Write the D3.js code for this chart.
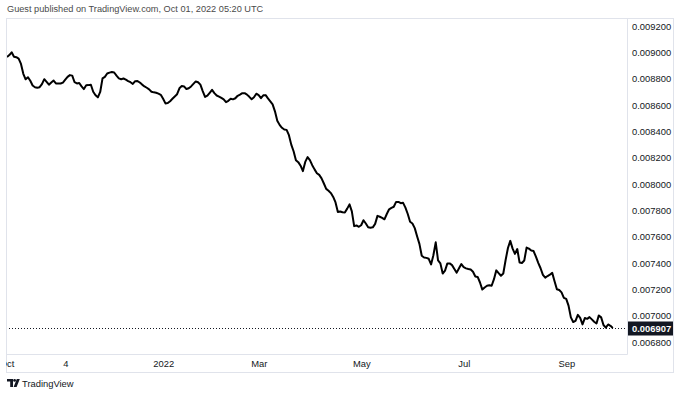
<!DOCTYPE html>
<html>
<head>
<meta charset="utf-8">
<script src="https://cdn.jsdelivr.net/npm/d3@7"></script>
<style>
  html, body { margin: 0; padding: 0; background: #ffffff; }
  svg { display: block; }
</style>
</head>
<body>
<svg id="chart" width="692" height="397"></svg>
<script>
// ---------------- DATA ----------------
const title = "Guest published on TradingView.com, Oct 01, 2022 05:20 UTC";
const startDate = "2021-10-01";   // first daily bar (weekdays only)
const closes = [
  0.008964,0.008979,0.009000,0.008966,0.008963,0.008952,0.008912,0.008837,0.008795,0.008811,
  0.008784,0.008748,0.008735,0.008731,0.008735,0.008758,0.008796,0.008776,0.008754,0.008771,
  0.008786,0.008764,0.008763,0.008763,0.008770,0.008792,0.008814,0.008827,0.008823,0.008773,
  0.008764,0.008767,0.008741,0.008721,0.008750,0.008751,0.008754,0.008701,0.008674,0.008658,
  0.008699,0.008802,0.008814,0.008839,0.008846,0.008851,0.008847,0.008823,0.008802,0.008796,
  0.008801,0.008793,0.008782,0.008773,0.008760,0.008781,0.008782,0.008771,0.008755,0.008741,
  0.008731,0.008719,0.008701,0.008696,0.008693,0.008686,0.008677,0.008647,0.008612,0.008615,
  0.008629,0.008647,0.008665,0.008682,0.008727,0.008744,0.008741,0.008721,0.008727,0.008741,
  0.008760,0.008779,0.008773,0.008755,0.008706,0.008661,0.008671,0.008693,0.008715,0.008690,
  0.008672,0.008664,0.008654,0.008643,0.008622,0.008632,0.008648,0.008643,0.008651,0.008670,
  0.008679,0.008690,0.008690,0.008679,0.008662,0.008644,0.008659,0.008686,0.008675,0.008652,
  0.008674,0.008675,0.008650,0.008628,0.008605,0.008552,0.008481,0.008449,0.008427,0.008414,
  0.008411,0.008371,0.008299,0.008249,0.008181,0.008166,0.008139,0.008098,0.008168,0.008204,
  0.008181,0.008143,0.008111,0.008082,0.008069,0.008043,0.008004,0.007963,0.007949,0.007931,
  0.007902,0.007860,0.007787,0.007791,0.007785,0.007784,0.007813,0.007845,0.007792,0.007680,
  0.007685,0.007675,0.007687,0.007725,0.007700,0.007672,0.007668,0.007671,0.007697,0.007758,
  0.007751,0.007743,0.007732,0.007772,0.007808,0.007819,0.007827,0.007864,0.007864,0.007854,
  0.007857,0.007821,0.007772,0.007713,0.007700,0.007665,0.007603,0.007545,0.007455,0.007442,
  0.007439,0.007432,0.007389,0.007459,0.007557,0.007420,0.007397,0.007320,0.007342,0.007397,
  0.007397,0.007384,0.007355,0.007327,0.007360,0.007392,0.007368,0.007359,0.007354,0.007350,
  0.007333,0.007298,0.007294,0.007252,0.007198,0.007214,0.007227,0.007231,0.007227,0.007277,
  0.007344,0.007323,0.007303,0.007320,0.007423,0.007514,0.007568,0.007509,0.007469,0.007506,
  0.007403,0.007400,0.007419,0.007517,0.007509,0.007495,0.007491,0.007448,0.007401,0.007360,
  0.007310,0.007288,0.007301,0.007311,0.007325,0.007262,0.007201,0.007195,0.007177,0.007135,
  0.007127,0.007076,0.006987,0.006952,0.006960,0.007006,0.006983,0.006934,0.006982,0.006976,
  0.006989,0.006972,0.006954,0.006941,0.007002,0.006987,0.006929,0.006909,0.006933,0.006923,
  0.006907
];
const lastValue = 0.006907;
const priceTicks = [0.0068,0.0070,0.0072,0.0074,0.0076,0.0078,0.0080,0.0082,0.0084,0.0086,0.0088,0.0090,0.0092];
const timeTickDates  = ["2021-10-01","2021-11-04","2022-01-03","2022-03-01","2022-05-02","2022-07-01","2022-09-01"];
const timeTickLabels = ["Oct","4","2022","Mar","May","Jul","Sep"];

// ---------------- LAYOUT ----------------
const W = 692, H = 397;
const frame = {l: 6, t: 18, r: 673, b: 372};
const pane  = {l: 6, t: 18, r: 627, b: 354};
const font = "'Liberation Sans', Arial, sans-serif";
const textCol = "#131722";
const borderCol = "#e0e3eb";

// trading dates (weekdays) for each bar
const parse = d3.utcParse("%Y-%m-%d");
const dates = [];
{
  let d = parse(startDate);
  while (dates.length < closes.length) {
    const wd = d.getUTCDay();
    if (wd !== 0 && wd !== 6) dates.push(new Date(d));
    d = d3.utcDay.offset(d, 1);
  }
}
const data = closes.map((v, i) => ({i, date: dates[i], v}));

const x = d3.scaleLinear().domain([0, closes.length - 1]).range([7, 612.8]);
const y = d3.scaleLinear().domain([0.0068, 0.0092]).range([342, 26]);

const svg = d3.select("#chart");
svg.append("rect").attr("width", W).attr("height", H).attr("fill", "#fff");

// header
svg.append("text")
  .attr("x", 7).attr("y", 12)
  .attr("font-family", font).attr("font-size", 9.2)
  .attr("fill", "#4a4a4a")
  .text(title);

// frame
svg.append("rect")
  .attr("x", frame.l + 0.5).attr("y", frame.t + 0.5)
  .attr("width", frame.r - frame.l).attr("height", frame.b - frame.t)
  .attr("fill", "none").attr("stroke", borderCol).attr("stroke-width", 1);
// pane separators
svg.append("line")
  .attr("x1", pane.l).attr("x2", pane.r + 0.5)
  .attr("y1", pane.b + 0.5).attr("y2", pane.b + 0.5)
  .attr("stroke", borderCol);
svg.append("line")
  .attr("x1", pane.r + 0.5).attr("x2", pane.r + 0.5)
  .attr("y1", pane.t).attr("y2", pane.b + 0.5)
  .attr("stroke", borderCol);

// clip for pane
svg.append("clipPath").attr("id", "paneClip")
  .append("rect").attr("x", pane.l + 1).attr("y", pane.t + 1)
  .attr("width", pane.r - pane.l - 1).attr("height", pane.b - pane.t - 1);
svg.append("clipPath").attr("id", "timeClip")
  .append("rect").attr("x", frame.l).attr("y", pane.b + 1)
  .attr("width", pane.r - frame.l).attr("height", frame.b - pane.b - 1);

const g = svg.append("g").attr("clip-path", "url(#paneClip)");

// last value dotted line
const ly = Math.round(y(lastValue)) + 0.5;
g.append("line")
  .attr("x1", pane.l).attr("x2", pane.r)
  .attr("y1", ly).attr("y2", ly)
  .attr("stroke", "#131722").attr("stroke-width", 1)
  .attr("stroke-dasharray", "1,2");

// price line
const line = d3.line().x(d => x(d.i)).y(d => y(d.v));
g.append("path").datum(data)
  .attr("d", line)
  .attr("fill", "none")
  .attr("stroke", "#000000")
  .attr("stroke-width", 2)
  .attr("stroke-linejoin", "round");

// price axis
const yAxis = d3.axisRight(y).tickValues(priceTicks).tickSize(0).tickPadding(0)
  .tickFormat(d => d.toFixed(6));
const ya = svg.append("g").attr("transform", `translate(${pane.r + 5},0)`).call(yAxis);
ya.select(".domain").remove();
ya.selectAll("text")
  .attr("font-family", font).attr("font-size", 9.4).attr("fill", textCol)
  .attr("text-anchor", "start").attr("x", 0);

// last value label
svg.append("rect")
  .attr("x", pane.r + 1).attr("y", ly - 7)
  .attr("width", frame.r - pane.r - 1).attr("height", 14)
  .attr("fill", "#131722");
svg.append("text")
  .attr("x", pane.r + 5).attr("y", ly).attr("dy", "0.35em")
  .attr("font-family", font).attr("font-size", 9.4).attr("font-weight", "bold")
  .attr("fill", "#ffffff")
  .text(lastValue.toFixed(6));

// time axis (first label sits at the left edge and is partly clipped, as in the original)
const tickIdx = timeTickDates.map(s => d3.bisectLeft(dates, parse(s), 0, dates.length));
const xa = svg.append("g").attr("clip-path", "url(#timeClip)");
xa.selectAll("text").data(timeTickLabels).join("text")
  .attr("x", (d, k) => x(tickIdx[k]) + (tickIdx[k] === 0 ? 0 : 3))
  .attr("y", 367)
  .attr("text-anchor", "middle")
  .attr("font-family", font).attr("font-size", 9.4).attr("fill", textCol)
  .text(d => d);

// TradingView logo
const logo = svg.append("g").attr("transform", "translate(7,379)").attr("fill", "#131722");
logo.append("path").attr("d", "M0,0 H6 V8 H3.2 V2.6 H0 Z");
logo.append("circle").attr("cx", 7.6).attr("cy", 1.4).attr("r", 1.4);
logo.append("path").attr("d", "M9.8,0 H12.8 L9.6,8 H6.6 Z");
svg.append("text")
  .attr("x", 22).attr("y", 387)
  .attr("font-family", font).attr("font-size", 9.4).attr("fill", textCol)
  .text("TradingView");
</script>
</body>
</html>
